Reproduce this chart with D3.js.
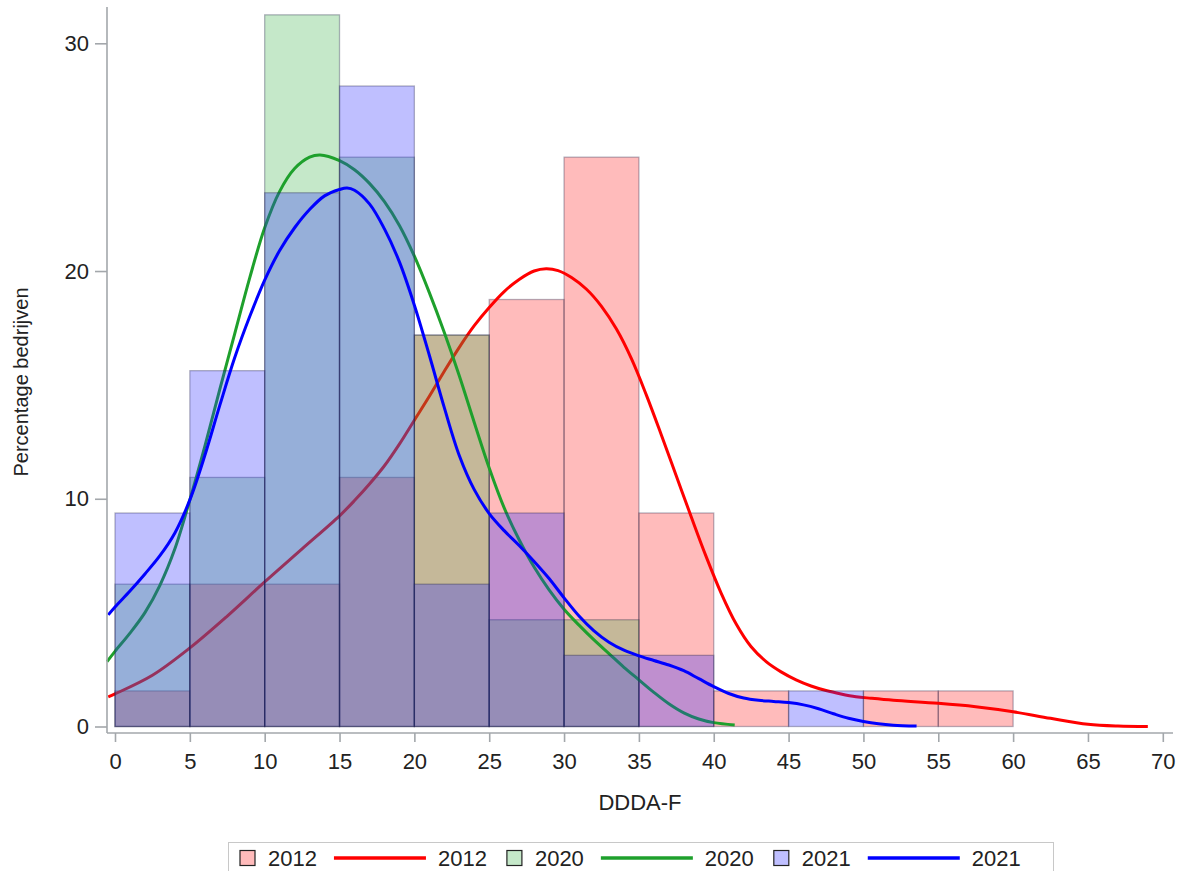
<!DOCTYPE html>
<html>
<head>
<meta charset="utf-8">
<script src="https://cdn.jsdelivr.net/npm/d3@7"></script>
<style>
  html, body { margin: 0; padding: 0; background: #fff; }
  svg { display: block; font-family: "Liberation Sans", Arial, sans-serif; }
</style>
</head>
<body>
<svg id="chart" width="1185" height="871"></svg>
<script>
// Histogram bins (DDDA-F, width 5) and percentage of companies per year
const binStarts = [0, 5, 10, 15, 20, 25, 30, 35, 40, 45, 50, 55];
const binWidth = 5;
const pct2012 = [1.5625, 6.25, 6.25, 10.9375, 17.1875, 18.75, 25, 9.375, 1.5625, 0, 1.5625, 1.5625];
const pct2020 = [6.25, 10.9375, 31.25, 25, 17.1875, 4.6875, 4.6875, 0, 0, 0, 0, 0];
const pct2021 = [9.375, 15.625, 23.4375, 28.125, 6.25, 9.375, 3.125, 3.125, 0, 1.5625, 0, 0];

// Kernel density curves, [DDDA-F, percentage]
const kde2012 = [[-0.45,1.3],[0,1.43],[2.5,2.25],[5,3.45],[7.5,4.85],[10,6.35],[12.5,7.8],[15,9.25],[16,9.92],[17,10.65],[18,11.45],[19,12.4],[20,13.45],[21,14.5],[22,15.6],[23,16.65],[24,17.6],[25,18.4],[26,19.1],[27,19.63],[28,20.0],[28.8,20.1],[29.6,20.02],[30.5,19.72],[31.5,19.2],[32.5,18.45],[33.5,17.45],[34.5,16.15],[35.5,14.55],[36.5,12.8],[37.5,11.0],[38.5,9.2],[39.5,7.45],[40.5,5.85],[41.5,4.5],[42.5,3.5],[43.5,2.85],[44.5,2.4],[45.5,2.05],[46.5,1.78],[47.5,1.58],[48.5,1.43],[49.5,1.31],[50.5,1.24],[52,1.15],[55,1.02],[57.5,0.87],[60,0.65],[62.5,0.36],[65,0.1],[67,0.02],[69,0]];
const kde2020 = [[-0.53,2.85],[0,3.3],[1,4.1],[2,5.0],[3,6.2],[4,7.8],[5,9.95],[6,12.3],[7,14.8],[8,17.25],[9,19.7],[10,21.9],[11,23.5],[12,24.5],[13,25.0],[13.7,25.1],[15,24.85],[16,24.45],[17,23.85],[18,23.05],[19,22.0],[20,20.65],[21,19.05],[22,17.3],[23,15.4],[24,13.35],[25,11.35],[26,9.6],[27,8.2],[28,7.0],[29,6.0],[30,5.15],[31,4.45],[32,3.8],[33,3.2],[34,2.6],[35,2.05],[36,1.5],[37,1.0],[38,0.6],[39,0.33],[40,0.17],[41.4,0.07]];
const kde2021 = [[-0.45,4.9],[0,5.25],[1,5.95],[2,6.7],[3,7.5],[4,8.5],[5,9.95],[6,11.9],[7,14.1],[8,16.2],[9,18.0],[10,19.6],[11,20.9],[12,21.9],[13,22.7],[14,23.3],[15,23.58],[15.5,23.65],[16,23.55],[17,22.95],[18,21.85],[19,20.4],[20,18.5],[21,16.3],[22,14.0],[23,11.9],[24,10.4],[25,9.35],[26,8.6],[27,7.95],[28,7.25],[29,6.5],[30,5.65],[31,4.85],[32,4.2],[33,3.7],[34,3.35],[35,3.1],[36,2.9],[37,2.7],[38,2.45],[39,2.1],[40,1.75],[41,1.45],[42,1.25],[43,1.15],[44,1.1],[45,1.05],[46,0.95],[47,0.78],[48,0.56],[49,0.36],[50,0.22],[51,0.12],[52,0.06],[53.55,0.02]];

const xTicks = [0, 5, 10, 15, 20, 25, 30, 35, 40, 45, 50, 55, 60, 65, 70];
const yTicks = [0, 10, 20, 30];
const xTitle = "DDDA-F";
const yTitle = "Percentage bedrijven";

// Bars use a translucent fill of the base colour
const barOpacity = 0.3;
const series = [
  { name: "2012", pct: pct2012, kde: kde2012, fill: "#ff1f1f", line: "#ff0000" },
  { name: "2020", pct: pct2020, kde: kde2020, fill: "#3eb24b", line: "#1ea02c" },
  { name: "2021", pct: pct2021, kde: kde2021, fill: "#2a2aff", line: "#0000ff" }
];

const svg = d3.select("#chart");
const x = d3.scaleLinear().domain([0, 70]).range([115, 1162.8]);
const y = d3.scaleLinear().domain([0, 30]).range([726.5, 43.3]);

const axisColor = "#a3a7ab";
const textColor = "#222";
const fontSize = 22;

// Bars and density curves, one year at a time
const line = d3.line().x(d => x(d[0])).y(d => y(d[1])).curve(d3.curveCatmullRom.alpha(0.5));
series.forEach(s => {
  const g = svg.append("g");
  g.selectAll("rect")
    .data(s.pct.map((v, i) => ({ x0: binStarts[i], v })).filter(d => d.v > 0))
    .join("rect")
    .attr("x", d => x(d.x0))
    .attr("width", d => x(d.x0 + binWidth) - x(d.x0))
    .attr("y", d => y(d.v))
    .attr("height", d => y(0) - y(d.v))
    .attr("fill", s.fill)
    .attr("fill-opacity", barOpacity)
    .attr("stroke", "#1c1c40")
    .attr("stroke-opacity", 0.32)
    .attr("stroke-width", 1.3);
  svg.append("path")
    .datum(s.kde)
    .attr("d", line)
    .attr("fill", "none")
    .attr("stroke", s.line)
    .attr("stroke-width", 3);
});

// Axes
const axisX0 = 107, axisY0 = 733;
svg.append("line").attr("x1", axisX0).attr("x2", axisX0).attr("y1", 7).attr("y2", axisY0)
  .attr("stroke", axisColor).attr("stroke-width", 1.6);
svg.append("line").attr("x1", axisX0).attr("x2", 1173).attr("y1", axisY0).attr("y2", axisY0)
  .attr("stroke", axisColor).attr("stroke-width", 1.6);

const yAxis = svg.append("g").attr("transform", `translate(${axisX0},0)`)
  .call(d3.axisLeft(y).tickValues(yTicks).tickSize(12).tickPadding(6).tickFormat(d3.format("d")));
const xAxis = svg.append("g").attr("transform", `translate(0,${axisY0})`)
  .call(d3.axisBottom(x).tickValues(xTicks).tickSize(9).tickPadding(11).tickFormat(d3.format("d")));
[yAxis, xAxis].forEach(a => {
  a.select(".domain").remove();
  a.selectAll(".tick line").attr("stroke", axisColor).attr("stroke-width", 1.6);
  a.selectAll(".tick text").attr("fill", textColor).attr("font-size", fontSize)
    .attr("font-family", '"Liberation Sans", Arial, sans-serif');
});

svg.append("text").attr("x", 640).attr("y", 810).attr("text-anchor", "middle")
  .attr("font-size", fontSize).attr("fill", textColor).text(xTitle);
svg.append("text").attr("transform", "translate(28,382) rotate(-90)").attr("text-anchor", "middle")
  .attr("font-size", 20).attr("fill", textColor).text(yTitle);

// Legend
const legend = svg.append("g");
legend.append("rect").attr("x", 228.5).attr("y", 842.5).attr("width", 825).attr("height", 34)
  .attr("fill", "#fff").attr("stroke", "#c8c8c8").attr("stroke-width", 1);
let cx = 240;
const ly = 858;
series.forEach(s => {
  legend.append("rect").attr("x", cx).attr("y", ly - 7.5).attr("width", 15).attr("height", 15)
    .attr("fill", s.fill).attr("fill-opacity", barOpacity)
    .attr("stroke", "#222").attr("stroke-width", 1.2);
  cx += 15 + 13;
  const t1 = legend.append("text").attr("x", cx).attr("y", ly + 8).attr("font-size", fontSize)
    .attr("fill", textColor).text(s.name);
  cx += t1.node().getComputedTextLength() + 17;
  legend.append("line").attr("x1", cx).attr("x2", cx + 92).attr("y1", ly).attr("y2", ly)
    .attr("stroke", s.line).attr("stroke-width", 3.5);
  cx += 92 + 12;
  const t2 = legend.append("text").attr("x", cx).attr("y", ly + 8).attr("font-size", fontSize)
    .attr("fill", textColor).text(s.name);
  cx += t2.node().getComputedTextLength() + 20;
});
</script>
</body>
</html>
